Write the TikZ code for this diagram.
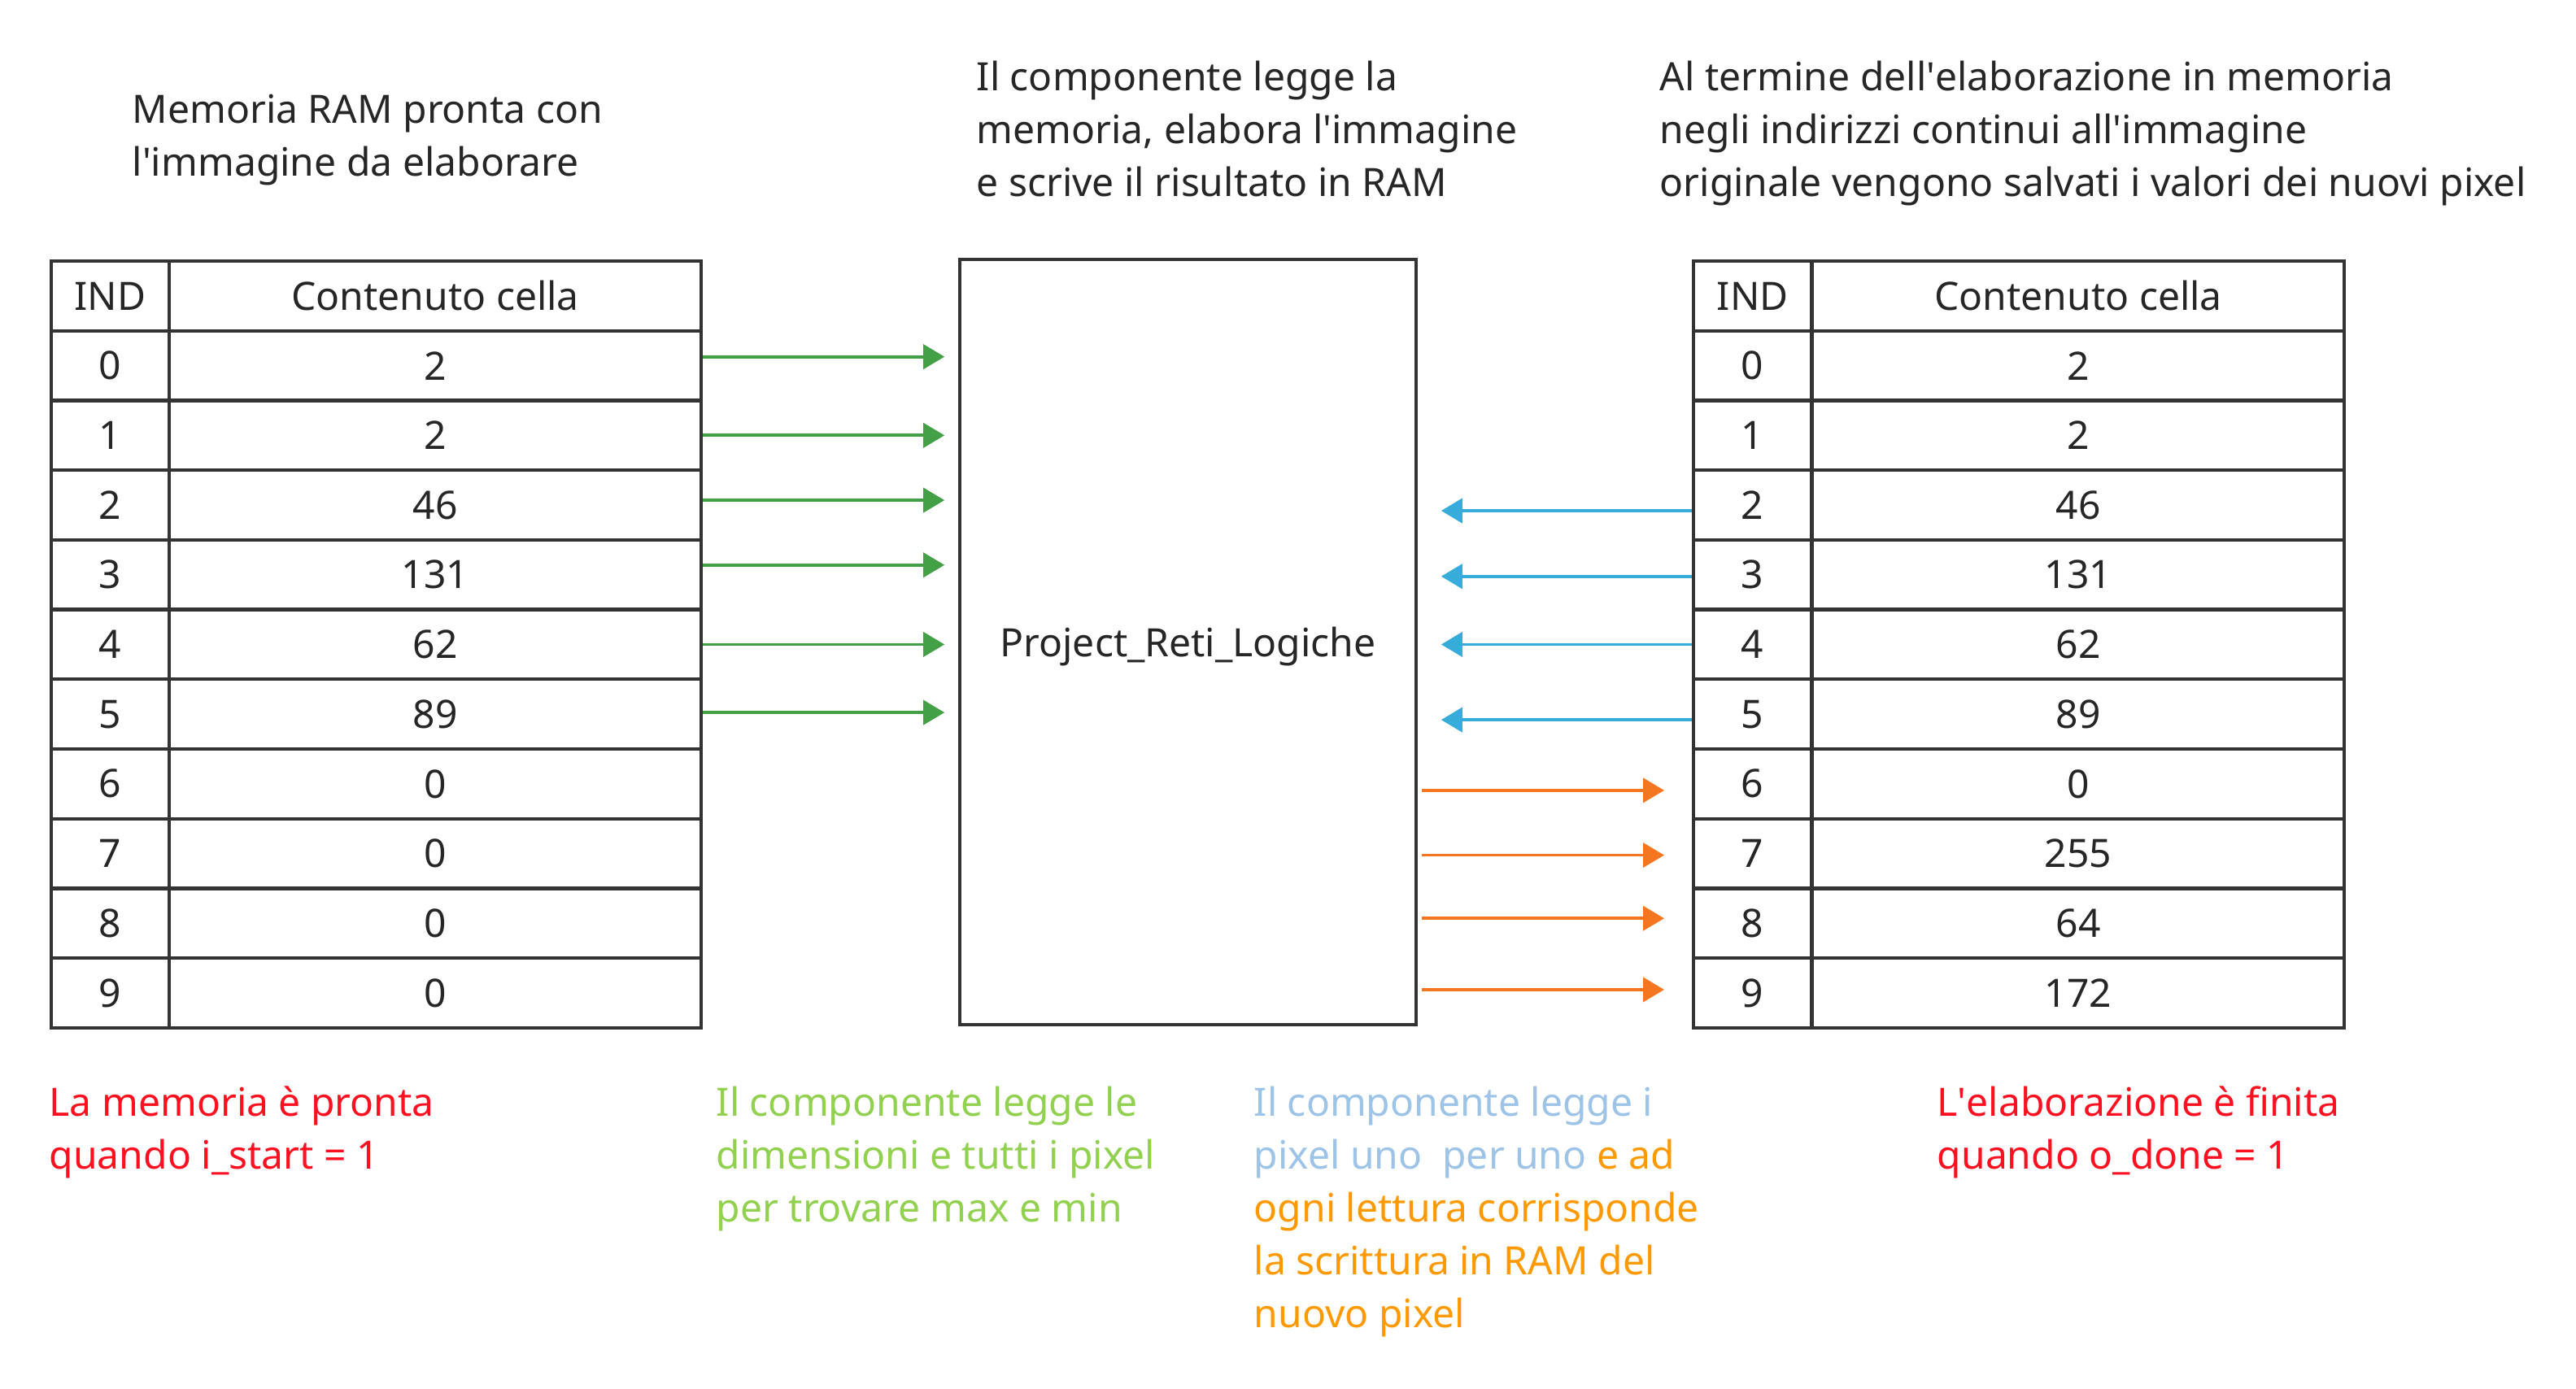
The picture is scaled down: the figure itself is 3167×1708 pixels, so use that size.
\documentclass[tikz,border=0pt]{standalone}
\usepackage{fontspec}
\setmainfont{Noto Sans}
\usetikzlibrary{arrows.meta,calc}
\definecolor{linec}{HTML}{333333}
\definecolor{txtc}{HTML}{262626}
\definecolor{tred}{HTML}{FF1020}
\definecolor{tgreen}{HTML}{92D050}
\definecolor{tblue}{HTML}{9DC3E6}
\definecolor{torange}{HTML}{FF9900}
\definecolor{agreen}{HTML}{43A047}
\definecolor{ablue}{HTML}{38ACD8}
\definecolor{aorange}{HTML}{F57621}
\newcommand\apos{\textquotesingle}
\begin{document}
\begin{tikzpicture}[x=0.25pt,y=-0.25pt,
  every node/.style={font=\fontsize{12}{16.25}\selectfont},
  cell/.style={draw=linec, line width=1.05pt, minimum height=21.43pt, inner sep=0pt, anchor=north west, text=txtc},
  icol/.style={cell, minimum width=36.25pt},
  vcol/.style={cell, minimum width=163.5pt},
  procbox/.style={draw=linec, line width=0.9pt, minimum width=140.25pt, minimum height=235.25pt, inner sep=0pt, text=txtc, text depth=0pt},
  label/.style={anchor=base west, align=left, inner sep=0pt},
  arr/.style={line width=0.95pt, -{Triangle[length=6.5pt,width=7.5pt]}},
  garrow/.style={arr, draw=agreen, fill=agreen},
  barrow/.style={arr, draw=ablue, fill=ablue},
  oarrow/.style={arr, draw=aorange, fill=aorange}]
\useasboundingbox (0,0) rectangle (3167,1708);

% left table
\node[icol] (Lh) at (61,319) {IND};
\node[vcol] (Lhv) at (206,319) {Contenuto cella};
% right table
\node[icol] (Rh) at (2080,319) {IND};
\node[vcol] (Rhv) at (2226,319) {Contenuto cella};
\foreach \i/\a/\b in {0/2/2,1/2/2,2/46/46,3/131/131,4/62/62,5/89/89,6/0/0,7/0/255,8/0/64,9/0/172}{
  \node[icol] (L\i) at (61,{319+85.7*(\i+1)}) {\i};
  \node[vcol] (Lv\i) at (206,{319+85.7*(\i+1)}) {\a};
  \node[icol] (R\i) at (2080,{319+85.7*(\i+1)}) {\i};
  \node[vcol] (Rv\i) at (2226,{319+85.7*(\i+1)}) {\b};
}

% component
\node[procbox] (box) at (1460.5,789.5) {Project\_Reti\_Logiche};

% green arrows (read)
\foreach \i/\d in {0/-11,1/0,2/-6,3/-12,4/0,5/-2}
  \draw[garrow] ($(Lv\i.east)+(0,\d)$) -- ($(Lv\i.east -| box.west)+(-17,\d)$);
% blue arrows (read)
\foreach \i/\d in {2/7,3/2,4/0,5/7}
  \draw[barrow] ($(R\i.west)+(0,\d)$) -- ($(R\i.west -| box.east)+(29,\d)$);
% orange arrows (write)
\foreach \i/\d in {6/8,7/2,8/-6,9/-4}
  \draw[oarrow] ($(R\i.west -| box.east)+(5,\d)$) -- ($(R\i.west)+(-34,\d)$);

% top labels (anchored at the baseline of their last line)
\node[label, text=txtc] (t1) at (162,217) {Memoria RAM pronta con\\l\apos immagine da elaborare};
\node[label, text=txtc] (t2) at (1200,242) {Il componente legge la\\memoria, elabora l\apos immagine\\e scrive il risultato in RAM};
\node[label, text=txtc] (t3) at (2040,242) {Al termine dell\apos elaborazione in memoria\\negli indirizzi continui all\apos immagine\\originale vengono salvati i valori dei nuovi pixel};

% bottom labels
\node[label, text=tred] (b1) at (60,1437) {La memoria è pronta\\quando i\_start = 1};
\node[label, text=tgreen] (b2) at (880,1502) {Il componente legge le\\dimensioni e tutti i pixel\\per trovare max e min};
\node[label, text=torange] (b3) at (1541,1632) {{\color{tblue}Il componente legge i}\\{\color{tblue}pixel uno\ \ per uno} e ad\\ogni lettura corrisponde\\la scrittura in RAM del\\nuovo pixel};
\node[label, text=tred] (b4) at (2381,1437) {L\apos elaborazione è finita\\quando o\_done = 1};
\end{tikzpicture}
\end{document}
